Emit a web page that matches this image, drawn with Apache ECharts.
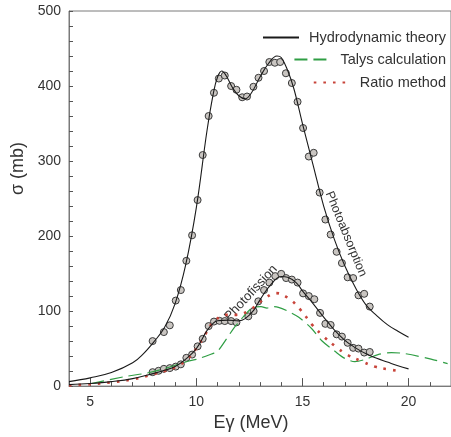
<!DOCTYPE html>
<html>
<head>
<meta charset="utf-8">
<script src="https://cdn.jsdelivr.net/npm/echarts@6/dist/echarts.min.js"></script>
<style>html,body{margin:0;padding:0;background:#fff}#c{width:451px;height:437px}</style>
</head>
<body>
<div id="c"></div>
<script>
// ---- Data ----
// Photoabsorption measured points
const absX = [7.94, 8.47, 8.75, 9.03, 9.27, 9.53, 9.80, 10.06, 10.30, 10.58, 10.83, 11.06, 11.34, 11.64, 11.89, 12.16, 12.39, 12.69, 12.93, 13.19, 13.44, 13.70, 13.95, 14.22, 14.50, 14.77, 15.03, 15.30, 15.53, 15.81, 16.08, 16.33, 16.61, 16.86, 17.13, 17.39, 17.64, 17.91, 18.17];
const absY = [60, 72, 81, 114, 128, 167, 201, 248, 308, 360, 391, 410, 414, 400, 395, 385, 386, 399, 411, 420, 432, 431, 432, 417, 404, 379, 344, 306, 311, 258, 222, 202, 179, 164, 145, 144, 121, 123, 106];
// Photofission measured points
const fisX = [7.94, 8.22, 8.47, 8.75, 9.03, 9.27, 9.53, 9.80, 10.06, 10.30, 10.58, 10.83, 11.09, 11.34, 11.64, 11.89, 12.45, 12.70, 12.92, 13.19, 13.44, 13.72, 14.00, 14.23, 14.50, 14.77, 15.03, 15.30, 15.56, 15.83, 16.08, 16.33, 16.61, 16.86, 17.13, 17.39, 17.64, 17.91, 18.17];
const fisY = [18.6, 20.4, 23, 24, 26, 29, 37.7, 42, 53, 63, 80, 86, 87, 86.7, 86.7, 85, 93, 100, 113, 128, 138, 146.6, 149.6, 144, 142, 138, 123.6, 120, 115.8, 97.6, 83, 81.5, 69, 66, 57.7, 51, 50, 44.7, 45.5];
// Hydrodynamic theory, photoabsorption
const thAbsX = [4, 5, 6, 7, 7.5, 8, 8.5, 9, 9.5, 10, 10.5, 10.8, 11.0, 11.2, 11.4, 11.7, 12.0, 12.3, 12.6, 13.0, 13.4, 13.8, 14.0, 14.3, 14.6, 15.0, 15.5, 16.0, 16.5, 17.0, 17.5, 18.0, 18.5, 19.0, 19.5, 20];
const thAbsY = [6, 11, 18, 31, 43, 59, 78, 110, 162, 238, 340, 390, 412, 420, 414, 398, 387, 383, 391, 412, 430, 440, 438, 421, 396, 350, 295, 240, 196, 160, 131, 108, 94, 82, 73, 65];
// Hydrodynamic theory, photofission
const thFisX = [4, 5, 6, 7, 8, 8.5, 9, 9.5, 10, 10.5, 10.8, 11.0, 11.5, 12.0, 12.3, 12.7, 13.0, 13.5, 14.0, 14.3, 14.7, 15.0, 15.5, 16.0, 16.5, 17.0, 17.5, 18.0, 18.5, 19.0, 19.5, 20];
const thFisY = [2, 3.5, 6, 10, 17, 21, 26, 36, 50, 74, 84, 87, 88, 87, 90, 101, 115, 135, 146, 145, 138, 127, 110, 92, 75, 61, 51, 43, 37, 32, 27, 23];
// Talys calculation
const talysX = [5.05, 6.7, 7.7, 8.4, 9.65, 10.04, 10.83, 11.0, 11.76, 12.0, 12.23, 12.62, 13.05, 13.33, 13.56, 13.87, 14.26, 14.81, 15.43, 15.9, 16.53, 17.0, 17.47, 17.94, 18.56, 19.19, 19.81, 21.06, 21.84];
const talysY = [3.5, 13, 17.5, 22.5, 33.4, 36, 44, 46, 77, 85, 93, 104, 106, 104, 106, 105, 100.6, 92, 76.8, 60.8, 46.4, 36.9, 32.6, 35.5, 42, 44.7, 43.4, 36, 30];
// Ratio method
const ratioX = [4, 5, 6, 7, 8, 8.5, 9, 9.5, 10, 10.4, 10.8, 11.4, 11.9, 12.5, 13.2, 13.75, 14.35, 14.9, 15.45, 16.0, 16.55, 17.1, 17.8, 18.4, 19.0, 19.7];
const ratioY = [1, 2.5, 5, 9, 16, 20, 25, 34, 50, 68, 85, 95, 95, 101, 116, 124, 117, 102, 82, 66, 53, 42, 33, 26, 22.5, 19.5];
// Axis ticks / labels
const xMajorTicks = [5, 10, 15, 20];
const yLabelStep = 100;
const legendNames = ['Hydrodynamic theory', 'Talys calculation', 'Ratio method'];

const zip = (xs, ys) => xs.map((x, i) => [x, ys[i]]);
const FONT = 'Liberation Sans, Arial, sans-serif';
const TXT = '#333';
const AX = '#7a7a7a';

const chart = echarts.init(document.getElementById('c'), null, {renderer: 'canvas'});

const mkLegend = (name, top) => ({
  data: [name], right: 5, top: top, itemWidth: 36, itemHeight: 12, padding: 0,
  itemStyle: {color: 'rgba(0,0,0,0)', borderColor: 'rgba(0,0,0,0)', borderWidth: 0, opacity: 0},
  textStyle: {fontSize: 14.5, color: TXT, fontFamily: FONT, padding: [0, 0, 0, 5]},
  selectedMode: false
});

const option = {
  animation: false,
  backgroundColor: '#fff',
  grid: {left: 69, right: -2, top: 11, bottom: 42, show: true, borderColor: AX, borderWidth: 1, containLabel: false},
  legend: [mkLegend(legendNames[0], 30), mkLegend(legendNames[1], 52), mkLegend(legendNames[2], 75)],
  xAxis: [
    {
      type: 'value', min: 4, max: 22, position: 'bottom',
      axisLine: {lineStyle: {color: AX, width: 1}},
      axisTick: {inside: true, length: 8, customValues: xMajorTicks, lineStyle: {color: '#555'}},
      axisLabel: {customValues: xMajorTicks, fontSize: 14, color: TXT, margin: 9, fontFamily: FONT},
      splitLine: {show: false},
      name: 'Eγ (MeV)', nameLocation: 'middle', nameGap: 27,
      nameTextStyle: {fontSize: 18, color: TXT, fontFamily: FONT, padding: [0, 18, 0, 0]}
    },
    {
      type: 'value', min: 4, max: 22, interval: 1, position: 'bottom',
      axisLine: {show: false},
      axisTick: {inside: true, length: 4, lineStyle: {color: '#555'}},
      axisLabel: {show: false}, splitLine: {show: false}
    }
  ],
  yAxis: {
    type: 'value', min: 0, max: 500, interval: 20,
    axisLine: {show: true, lineStyle: {color: AX, width: 1}},
    axisTick: {inside: true, length: 4, lineStyle: {color: '#555'}},
    axisLabel: {fontSize: 14, color: TXT, margin: 8, fontFamily: FONT,
      formatter: v => (v % yLabelStep === 0 ? String(v) : '')},
    splitLine: {show: false},
    name: 'σ (mb)', nameLocation: 'middle', nameGap: 36, nameRotate: 90,
    nameTextStyle: {fontSize: 18, color: TXT, fontFamily: FONT, padding: [0, 0, 0, 60]}
  },
  graphic: [
    {type: 'text', x: 251, y: 293, rotation: 0.82, silent: true,
      style: {text: 'Photofission', fontSize: 13, fill: TXT, fontFamily: FONT, align: 'center', verticalAlign: 'middle'}},
    {type: 'text', x: 346, y: 234, rotation: -1.18, silent: true,
      style: {text: 'Photoabsorption', fontSize: 12.5, fill: TXT, fontFamily: FONT, align: 'center', verticalAlign: 'middle'}}
  ],
  series: [
    {name: 'Talys calculation', type: 'line', data: zip(talysX, talysY), smooth: 0.3, symbol: 'none', showSymbol: false,
      lineStyle: {color: '#2f9e44', width: 1.2, type: [13, 6]}, itemStyle: {color: '#2f9e44'}},
    {name: 'Ratio method', type: 'line', data: zip(ratioX, ratioY), smooth: 0.4, symbol: 'none', showSymbol: false,
      lineStyle: {color: '#c8443a', width: 2.6, type: [2.6, 7]}, itemStyle: {color: '#c8443a'}},
    {name: 'Hydrodynamic theory', type: 'line', data: zip(thAbsX, thAbsY), smooth: 0.4, symbol: 'none', showSymbol: false,
      lineStyle: {color: '#1a1a1a', width: 1.1}, itemStyle: {color: '#1a1a1a'}},
    {name: 'Hydrodynamic theory', type: 'line', data: zip(thFisX, thFisY), smooth: 0.4, symbol: 'none', showSymbol: false,
      lineStyle: {color: '#1a1a1a', width: 1.1}, itemStyle: {color: '#1a1a1a'}},
    {name: 'Photoabsorption data', type: 'scatter', data: zip(absX, absY), symbol: 'circle', symbolSize: 7,
      itemStyle: {color: '#c9c5c1', borderColor: '#3a3a3a', borderWidth: 1, opacity: 1}},
    {name: 'Photofission data', type: 'scatter', data: zip(fisX, fisY), symbol: 'circle', symbolSize: 7,
      itemStyle: {color: '#c9c5c1', borderColor: '#3a3a3a', borderWidth: 1, opacity: 1}}
  ]
};
chart.setOption(option);
</script>
</body>
</html>
